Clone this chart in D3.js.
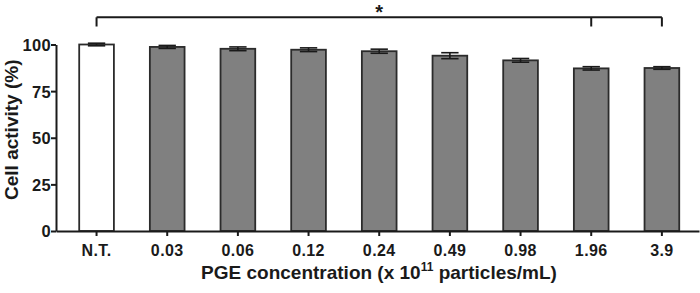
<!DOCTYPE html>
<html>
<head>
<meta charset="utf-8">
<script src="https://cdn.jsdelivr.net/npm/d3@7"></script>
<style>
  body { margin: 0; background: #fff; }
  text { font-family: "Liberation Sans", Arial, sans-serif; font-weight: bold; fill: #1a1a1a; }
</style>
</head>
<body>
<div id="canvas"></div>
<script>
const categories = ['N.T.', '0.03', '0.06', '0.12', '0.24', '0.49', '0.98', '1.96', '3.9'];
const values = [100, 98.7, 97.7, 97.2, 96.4, 94.0, 91.5, 87.2, 87.4];
const errors = [0.7, 0.8, 1.0, 1.0, 1.1, 1.6, 1.0, 0.9, 0.7];
const yTicks = [0, 25, 50, 75, 100];
const sigFrom = 'N.T.';
const sigTo = ['1.96', '3.9'];
const sigLabel = '*';

const width = 700;
const height = 293;

const svg = d3
  .select('#canvas')
  .append('svg')
  .attr('width', width)
  .attr('height', height);

const xScale = d3
  .scaleBand()
  .domain(categories)
  .range([56, 699])
  .paddingInner(0.509)
  .paddingOuter(0.304)
  .align(0.54);
const yScale = d3.scaleLinear().domain([0, 100]).range([231, 44.5]);

const data = categories.map((c, i) => ({ cat: c, value: values[i], err: errors[i] }));

// bars
svg
  .selectAll('rect.bar')
  .data(data)
  .enter()
  .append('rect')
  .attr('class', 'bar')
  .attr('x', d => xScale(d.cat))
  .attr('y', d => yScale(d.value))
  .attr('width', xScale.bandwidth())
  .attr('height', d => yScale(0) - yScale(d.value))
  .attr('fill', (d, i) => (i === 0 ? '#ffffff' : '#808080'))
  .attr('stroke', '#2b2b2b')
  .attr('stroke-width', 1.8);

// error bars
const capW = xScale.bandwidth() * 0.5;
const eb = svg.selectAll('g.err').data(data).enter().append('g').attr('class', 'err');
eb.append('line')
  .attr('x1', d => xScale(d.cat) + xScale.bandwidth() / 2)
  .attr('x2', d => xScale(d.cat) + xScale.bandwidth() / 2)
  .attr('y1', d => yScale(d.value + d.err))
  .attr('y2', d => yScale(d.value - d.err));
eb.append('line')
  .attr('x1', d => xScale(d.cat) + xScale.bandwidth() / 2 - capW / 2)
  .attr('x2', d => xScale(d.cat) + xScale.bandwidth() / 2 + capW / 2)
  .attr('y1', d => yScale(d.value + d.err))
  .attr('y2', d => yScale(d.value + d.err));
eb.append('line')
  .attr('x1', d => xScale(d.cat) + xScale.bandwidth() / 2 - capW / 2)
  .attr('x2', d => xScale(d.cat) + xScale.bandwidth() / 2 + capW / 2)
  .attr('y1', d => yScale(d.value - d.err))
  .attr('y2', d => yScale(d.value - d.err));
eb.selectAll('line').attr('stroke', '#1a1a1a').attr('stroke-width', 1.6);

// axes
const xAxis = d3.axisBottom(xScale).tickSize(5).tickSizeOuter(0);
const yAxis = d3.axisLeft(yScale).tickValues(yTicks).tickSize(5).tickSizeOuter(0);

const xAxisGroup = svg.append('g').attr('transform', `translate(0, ${yScale(0)})`).call(xAxis);
const yAxisGroup = svg.append('g').attr('transform', 'translate(56, 0)').call(yAxis);

xAxisGroup.selectAll('text')
  .attr('font-size', 16)
  .attr('letter-spacing', 0.4)
  .attr('y', 10)
  .attr('dy', '0.95em');
yAxisGroup.selectAll('text')
  .attr('font-size', 16.5)
  .attr('letter-spacing', 0.3)
  .attr('x', -5)
  .attr('dy', '0.36em');
[xAxisGroup, yAxisGroup].forEach(g => {
  g.attr('font-family', null).attr('font-size', null);
  g.selectAll('path, line').attr('stroke', '#1a1a1a').attr('stroke-width', 2);
});

// axis titles
svg
  .append('text')
  .attr('transform', `translate(17.5, ${(yScale(0) + yScale(100)) / 2 - 8}) rotate(-90)`)
  .attr('text-anchor', 'middle')
  .attr('font-size', 19)
  .text('Cell activity (%)');

const xTitle = svg
  .append('text')
  .attr('x', 379)
  .attr('y', 279)
  .attr('text-anchor', 'middle')
  .attr('font-size', 19);
xTitle.append('tspan').text('PGE concentration (x 10');
xTitle.append('tspan').attr('font-size', 12).attr('dy', -8).text('11');
xTitle.append('tspan').attr('dy', 8).text(' particles/mL)');

// significance bracket
const cx = c => xScale(c) + xScale.bandwidth() / 2;
const bracketY = 17.3;
const tickY = 26.5;
const lastTo = sigTo[sigTo.length - 1];
svg
  .append('line')
  .attr('x1', cx(sigFrom))
  .attr('x2', cx(lastTo))
  .attr('y1', bracketY)
  .attr('y2', bracketY);
[sigFrom, ...sigTo].forEach(c => {
  svg
    .append('line')
    .attr('x1', cx(c))
    .attr('x2', cx(c))
    .attr('y1', bracketY)
    .attr('y2', tickY);
});
svg.selectAll('svg > line').attr('stroke', '#1a1a1a').attr('stroke-width', 2);

svg
  .append('text')
  .attr('x', (cx(sigFrom) + cx(lastTo)) / 2)
  .attr('y', 18.5)
  .attr('text-anchor', 'middle')
  .attr('font-size', 20)
  .text(sigLabel);
</script>
</body>
</html>
